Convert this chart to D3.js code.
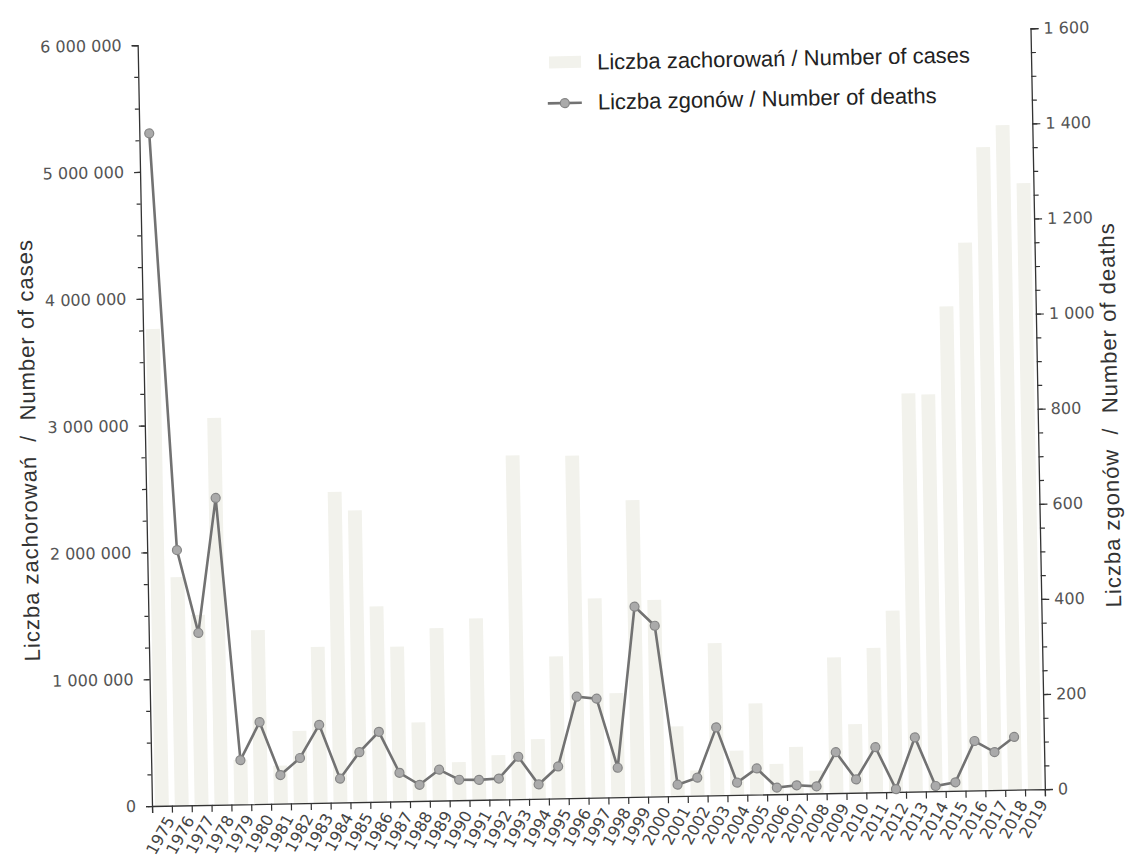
<!DOCTYPE html>
<html>
<head>
<meta charset="utf-8">
<script src="https://cdn.jsdelivr.net/npm/d3@7"></script>
<style>
  body { margin: 0; background: #fff; }
  svg { display: block; }
</style>
</head>
<body>
<div id="chart"></div>
<script>
const years = [1975, 1976, 1977, 1978, 1979, 1980, 1981, 1982, 1983, 1984,
  1985, 1986, 1987, 1988, 1989, 1990, 1991, 1992, 1993, 1994,
  1995, 1996, 1997, 1998, 1999, 2000, 2001, 2002, 2003, 2004,
  2005, 2006, 2007, 2008, 2009, 2010, 2011, 2012, 2013, 2014,
  2015, 2016, 2017, 2018, 2019];

// Liczba zachorowań / Number of cases
const cases = [3760000, 1800000, 1500000, 3050000, 350000, 1370000, 300000, 570000, 1230000, 2450000,
  2300000, 1540000, 1220000, 620000, 1360000, 300000, 1430000, 350000, 2710000, 470000,
  1120000, 2700000, 1570000, 820000, 2340000, 1550000, 550000, 200000, 1200000, 350000,
  720000, 240000, 370000, 180000, 1070000, 540000, 1140000, 1430000, 3140000, 3130000,
  3820000, 4320000, 5070000, 5240000, 4780000];

// Liczba zgonów / Number of deaths (no value for 2019)
const deaths = [1414, 537, 362, 645, 93, 172, 60, 95, 164, 50,
  105, 147, 60, 34, 65, 43, 42, 44, 89, 30,
  67, 213, 208, 62, 400, 359, 24, 38, 143, 26,
  55, 14, 18, 15, 86, 28, 95, 6, 114, 11,
  18, 104, 80, 111];

const leftTicks = [0, 1000000, 2000000, 3000000, 4000000, 5000000, 6000000];
const rightTicks = [0, 200, 400, 600, 800, 1000, 1200, 1400, 1600];

const width = 1130, height = 857;
const left = 152, bottom = 806, w = 893, h = 761;
const tilt = -1.08; // the scanned page is slightly skewed
const barFill = "#f2f2ec";

const pl = d3.formatLocale({ decimal: ",", thousands: " ", grouping: [3], currency: ["", ""] });
const fmt = pl.format(",d");

const svg = d3.select("#chart").append("svg")
    .attr("width", width)
    .attr("height", height);

const g = svg.append("g")
    .attr("transform", `rotate(${tilt},${left},${bottom}) translate(${left},${bottom - h})`);

const x = d3.scaleBand()
    .domain(years)
    .range([0, w])
    .paddingInner(0.3)
    .paddingOuter(0.15);

const xb = d3.scaleLinear().domain([0, years.length]).range([0, w]);

const yL = d3.scaleLinear().domain([0, 6000000]).range([h, 0]);
const yR = d3.scaleLinear().domain([0, 1600]).range([h, 0]);

// bars
g.append("g")
  .selectAll("rect")
  .data(years)
  .enter().append("rect")
    .attr("x", d => x(d))
    .attr("y", (d, i) => yL(cases[i]))
    .attr("width", x.bandwidth())
    .attr("height", (d, i) => h - yL(cases[i]))
    .attr("fill", barFill);

// left axis
g.append("g")
    .call(d3.axisLeft(yL).tickValues(d3.range(0, 6000001, 250000)).tickSize(4).tickFormat(""))
    .call(a => a.select(".domain").remove());
const axL = g.append("g")
    .call(d3.axisLeft(yL).tickValues(leftTicks).tickSize(6).tickPadding(10).tickFormat(fmt));

// right axis
g.append("g")
    .attr("transform", `translate(${w},0)`)
    .call(d3.axisRight(yR).tickValues(d3.range(0, 1601, 50)).tickSize(5).tickFormat(""))
    .call(a => a.select(".domain").remove());
const axR = g.append("g")
    .attr("transform", `translate(${w},0)`)
    .call(d3.axisRight(yR).tickValues(rightTicks).tickSize(8).tickPadding(5).tickFormat(fmt));

[axL, axR].forEach(a => {
  a.select(".domain").attr("stroke", "#333").attr("stroke-width", 1.3);
  a.selectAll(".tick text").attr("fill", "#555")
    .style("font", "16px 'DejaVu Sans', sans-serif");
});
g.selectAll(".tick line").attr("stroke", "#333").attr("stroke-width", 1.2);

// bottom axis: ticks at band boundaries, labels under bands
const axB = g.append("g")
    .attr("transform", `translate(0,${h})`);
axB.append("g")
    .call(d3.axisBottom(xb).tickValues(d3.range(0, years.length + 1)).tickSize(7).tickFormat(""))
    .call(a => a.select(".domain").attr("stroke", "#333").attr("stroke-width", 1.3))
    .call(a => a.selectAll("line").attr("stroke", "#333").attr("stroke-width", 1.2));
axB.append("g")
    .call(d3.axisBottom(x).tickSize(0))
    .call(a => a.select(".domain").remove())
    .selectAll("text")
      .attr("x", 0).attr("y", 0).attr("dy", "0.35em")
      .attr("text-anchor", "end")
      .attr("transform", "translate(8,12) rotate(-60)")
      .attr("fill", "#444")
      .style("font", "16px 'DejaVu Sans', sans-serif");

// deaths line
const cx = (d, i) => x(years[i]) + x.bandwidth() / 2;
g.append("path")
    .datum(deaths)
    .attr("fill", "none")
    .attr("stroke", "#727272")
    .attr("stroke-width", 2.6)
    .attr("d", d3.line().x(cx).y(d => yR(d)));

g.append("g")
  .selectAll("circle")
  .data(deaths)
  .enter().append("circle")
    .attr("cx", cx)
    .attr("cy", d => yR(d))
    .attr("r", 4.5)
    .attr("fill", "#aaaaaa")
    .attr("stroke", "#858585")
    .attr("stroke-width", 1.2);

// axis titles
g.append("text")
    .attr("transform", "translate(-117,403) rotate(-90)")
    .attr("text-anchor", "middle")
    .attr("dy", "0.35em")
    .attr("fill", "#333")
    .style("font", "22px 'Liberation Sans', Arial, sans-serif")
    .style("letter-spacing", "1px")
    .style("white-space", "pre")
    .text("Liczba zachorowań  /  Number of cases");

g.append("text")
    .attr("transform", "translate(965,388) rotate(-90)")
    .attr("text-anchor", "middle")
    .attr("dy", "0.35em")
    .attr("fill", "#333")
    .style("font", "22px 'Liberation Sans', Arial, sans-serif")
    .style("letter-spacing", "1px")
    .style("white-space", "pre")
    .text("Liczba zgonów  /  Number of deaths");

// legend
const leg = g.append("g");
leg.append("rect")
    .attr("x", 411).attr("y", 19).attr("width", 32).attr("height", 12)
    .attr("fill", barFill);
leg.append("text")
    .attr("x", 459).attr("y", 33)
    .attr("fill", "#222")
    .style("font", "22px 'Liberation Sans', Arial, sans-serif")
    .text("Liczba zachorowań / Number of cases");
leg.append("line")
    .attr("x1", 409).attr("x2", 443).attr("y1", 66).attr("y2", 66)
    .attr("stroke", "#727272").attr("stroke-width", 2.6);
leg.append("circle")
    .attr("cx", 426).attr("cy", 66).attr("r", 4.5)
    .attr("fill", "#aaaaaa").attr("stroke", "#858585").attr("stroke-width", 1.2);
leg.append("text")
    .attr("x", 459).attr("y", 73)
    .attr("fill", "#222")
    .style("font", "22px 'Liberation Sans', Arial, sans-serif")
    .text("Liczba zgonów / Number of deaths");
</script>
</body>
</html>
